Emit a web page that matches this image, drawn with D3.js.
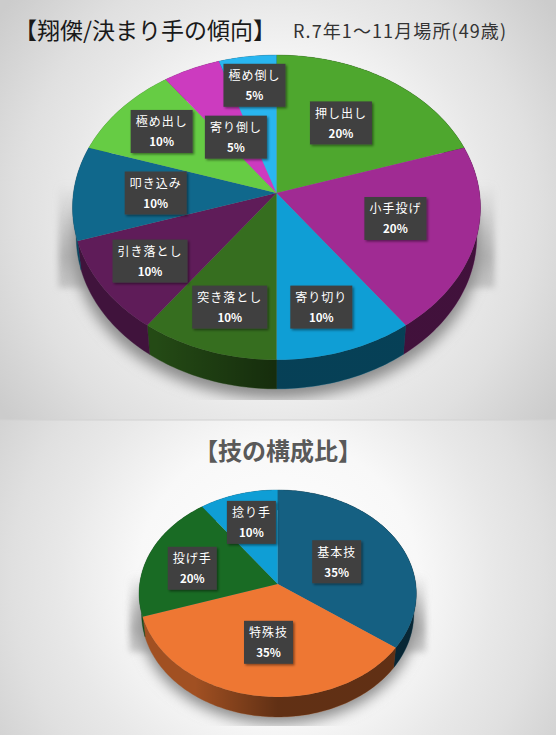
<!DOCTYPE html>
<html>
<head>
<meta charset="utf-8">
<script src="https://cdn.jsdelivr.net/npm/d3@7/dist/d3.min.js"></script>
<style>
  html, body { margin: 0; padding: 0; background: #fff; }
  text { font-family: "Noto Sans CJK JP", sans-serif; }
</style>
</head>
<body>
<div id="chart"></div>
<script>
// top pie data
const kimariteNames = ['押し出し', '小手投げ', '寄り切り', '突き落とし', '引き落とし', '叩き込み', '極め出し', '寄り倒し', '極め倒し'];
const kimariteValues = [20, 20, 10, 10, 10, 10, 10, 5, 5];
const kimariteColors = ['#4ea72e', '#a02b93', '#0f9ed5', '#366e1f', '#5f1c59', '#10688c', '#66cc44', '#cc3bbf', '#29b6f0'];

// bottom pie data
const wazaNames = ['基本技', '特殊技', '投げ手', '捻り手'];
const wazaValues = [35, 35, 20, 10];
const wazaColors = ['#156082', '#ee7733', '#196b24', '#0f9ed5'];

const width = 556, height = 735;

// label nudges away from the slice anchor
const kimariteNudge = [[-4, 0], [1, -3], [5, 23], [-7, 23], [-24.5, 13], [1, 0], [-19.5, -10], [12, 21], [-4, -23]];
const wazaNudge = [[-13, 5], [4.5, -6], [-8, 3], [-2, -6]];

const svg = d3.select('#chart').append('svg')
    .attr('width', width)
    .attr('height', height)
    .style('display', 'block');
const defs = svg.append('defs');

// panel backgrounds
function panelGradient(id, cy, r) {
    const g = defs.append('radialGradient').attr('id', id)
        .attr('gradientUnits', 'userSpaceOnUse')
        .attr('cx', width / 2).attr('cy', cy).attr('r', r);
    [[0, '#ffffff'], [0.4, '#f8f8f8'], [0.62, '#e8e8e8'], [0.76, '#e0e0e0'], [1, '#cccccc']].forEach(s => {
        g.append('stop').attr('offset', s[0]).attr('stop-color', s[1]);
    });
}
panelGradient('bg1', 210, 340);
panelGradient('bg2', 578, 350);
svg.append('rect').attr('width', width).attr('height', 420).attr('fill', 'url(#bg1)');
svg.append('rect').attr('y', 420).attr('width', width).attr('height', 315).attr('fill', 'url(#bg2)');
svg.append('line').attr('x1', 0).attr('x2', width).attr('y1', 420).attr('y2', 420)
    .attr('stroke', '#d2d2d2').attr('stroke-width', 1);

const blur = (id, sd) => defs.append('filter').attr('id', id)
    .attr('x', '-20%').attr('y', '-20%').attr('width', '140%').attr('height', '140%')
    .append('feGaussianBlur').attr('stdDeviation', sd);
blur('blurWide', 7);
blur('blurEdge', 3);
const boxShadow = defs.append('filter').attr('id', 'boxShadow').attr('x', '-20%').attr('y', '-20%').attr('width', '140%').attr('height', '140%');
boxShadow.append('feDropShadow').attr('dx', 1.5).attr('dy', 1.5).attr('stdDeviation', 1.2).attr('flood-color', '#000').attr('flood-opacity', 0.45);

// wall light: brighter on the left, dark toward the right
function wallOverlay(id, x0, x1) {
    const g = defs.append('linearGradient').attr('id', id)
        .attr('gradientUnits', 'userSpaceOnUse')
        .attr('x1', x0).attr('x2', x1).attr('y1', 0).attr('y2', 0);
    g.append('stop').attr('offset', '0.2').attr('stop-color', '#000').attr('stop-opacity', 0);
    g.append('stop').attr('offset', '0.5').attr('stop-color', '#000').attr('stop-opacity', 0.4);
    g.append('stop').attr('offset', '1').attr('stop-color', '#000').attr('stop-opacity', 0.4);
}

const line = d3.line();

function drawPie(cfg) {
    const g = svg.append('g');
    const toPoint = (angle, f) => {
        const u = f * Math.sin(angle), v = f * Math.cos(angle);
        const w = 1 / (1 + cfg.k * v);
        return [cfg.cx + cfg.rx * u * w, cfg.cy - cfg.ry * v * w];
    };
    const arcs = d3.pie().sort(null)(cfg.values);
    const rimPoints = a => {
        const n = Math.max(2, Math.ceil((a.endAngle - a.startAngle) / 0.02));
        return d3.range(n + 1).map(i => toPoint(a.startAngle + (a.endAngle - a.startAngle) * i / n, 1));
    };
    // the lower rim is further away, so it is a little narrower
    const lowered = p => [cfg.cx + (p[0] - cfg.cx) * 0.982, p[1] + cfg.depth];

    // floor shadow, cut off flat at the bottom
    const clipId = cfg.id + 'Clip';
    defs.append('clipPath').attr('id', clipId).append('rect')
        .attr('x', 0).attr('y', cfg.cy - cfg.ry).attr('width', width).attr('height', cfg.shadowEnd - cfg.cy + cfg.ry);
    const shadow = g.append('g').attr('clip-path', `url(#${clipId})`);

    const sideGrad = defs.append('linearGradient').attr('id', cfg.id + 'Side')
        .attr('gradientUnits', 'userSpaceOnUse')
        .attr('x1', 0).attr('x2', 0).attr('y1', cfg.cy - 10).attr('y2', cfg.sideBottom);
    sideGrad.append('stop').attr('offset', 0).attr('stop-color', '#aaa').attr('stop-opacity', 0);
    sideGrad.append('stop').attr('offset', 0.7).attr('stop-color', '#aaa').attr('stop-opacity', 0.85);
    sideGrad.append('stop').attr('offset', 1).attr('stop-color', '#aaa').attr('stop-opacity', 0.55);
    // side strip showing left and right of the disc
    shadow.append('rect')
        .attr('x', cfg.cx - cfg.rx - cfg.sidePad).attr('y', cfg.cy - 10)
        .attr('width', 2 * (cfg.rx + cfg.sidePad)).attr('height', cfg.sideBottom - cfg.cy + 10)
        .attr('fill', `url(#${cfg.id}Side)`)
        .attr('filter', 'url(#blurEdge)');

    const shadowRim = d3.range(0, 361, 3).map(d => {
        const p = toPoint(d * Math.PI / 180, 1);
        return [cfg.cx + (p[0] - cfg.cx) * 0.995, p[1] + cfg.depth + cfg.shadowDrop];
    });
    shadow.append('path')
        .attr('d', line(shadowRim) + 'Z')
        .attr('fill', '#8c8c8c')
        .attr('filter', 'url(#blurWide)');

    // walls
    wallOverlay(cfg.id + 'Wall', cfg.cx - cfg.rx, cfg.cx + cfg.rx);
    const wallPath = a => {
        const rim = rimPoints(a);
        const low = rim.map(lowered).reverse();
        return line(rim.concat(low)) + 'Z';
    };
    const wallColor = (d, i) => d3.color(cfg.colors[i]).darker(1.1);
    g.selectAll('path.wall').data(arcs).join('path')
        .attr('class', 'wall')
        .attr('d', wallPath)
        .attr('fill', wallColor)
        .attr('stroke', wallColor)
        .attr('stroke-width', 0.4);
    g.selectAll('path.wallLight').data(arcs).join('path')
        .attr('class', 'wallLight')
        .attr('d', wallPath)
        .attr('fill', `url(#${cfg.id}Wall)`);

    // top faces
    g.selectAll('path.face').data(arcs).join('path')
        .attr('class', 'face')
        .attr('d', a => line([[cfg.cx, cfg.cy]].concat(rimPoints(a))) + 'Z')
        .attr('fill', (d, i) => cfg.colors[i]);

    // labels
    const label = g.selectAll('g.label').data(arcs).join('g')
        .attr('class', 'label')
        .attr('transform', (a, i) => {
            const p = toPoint((a.startAngle + a.endAngle) / 2, 0.6);
            return `translate(${p[0] + cfg.nudge[i][0]},${p[1] + cfg.nudge[i][1]})`;
        });
    const boxW = (a, i) => 13 * cfg.names[i].length + 10;
    label.append('rect')
        .attr('x', (a, i) => -boxW(a, i) / 2)
        .attr('y', -21.5)
        .attr('width', boxW)
        .attr('height', 43)
        .attr('fill', '#404040')
        .attr('filter', 'url(#boxShadow)');
    label.append('text')
        .attr('text-anchor', 'middle')
        .attr('y', -5)
        .attr('fill', '#fff')
        .attr('font-size', 12)
        .attr('letter-spacing', 1)
        .text((a, i) => cfg.names[i]);
    label.append('text')
        .attr('text-anchor', 'middle')
        .attr('y', 15)
        .attr('fill', '#fff')
        .attr('font-size', 11.5)
        .attr('font-weight', 700)
        .text(a => d3.format('d')(a.value) + '%');
}

drawPie({
    id: 'kimarite', names: kimariteNames, values: kimariteValues, colors: kimariteColors, nudge: kimariteNudge,
    cx: 276.5, cy: 193, rx: 203, ry: 151, k: 0.095, depth: 29, shadowDrop: 10, shadowEnd: 400, sideBottom: 288, sidePad: 15
});
drawPie({
    id: 'waza', names: wazaNames, values: wazaValues, colors: wazaColors, nudge: wazaNudge,
    cx: 277.7, cy: 584, rx: 138, ry: 102.6, k: 0.0917, depth: 20, shadowDrop: 7, shadowEnd: 726, sideBottom: 652, sidePad: 10
});

// titles
svg.append('text').attr('x', 14).attr('y', 39)
    .attr('fill', '#1a1a1a').attr('font-size', 23).text('【翔傑/決まり手の傾向】');
svg.append('text').attr('x', 293).attr('y', 38)
    .attr('fill', '#333').attr('font-size', 18).attr('letter-spacing', 1.1).text('R.7年1～11月場所(49歳)');
svg.append('text').attr('x', width / 2).attr('y', 460).attr('text-anchor', 'middle')
    .attr('fill', '#595959').attr('font-size', 24).attr('font-weight', 700).text('【技の構成比】');
</script>
</body>
</html>
